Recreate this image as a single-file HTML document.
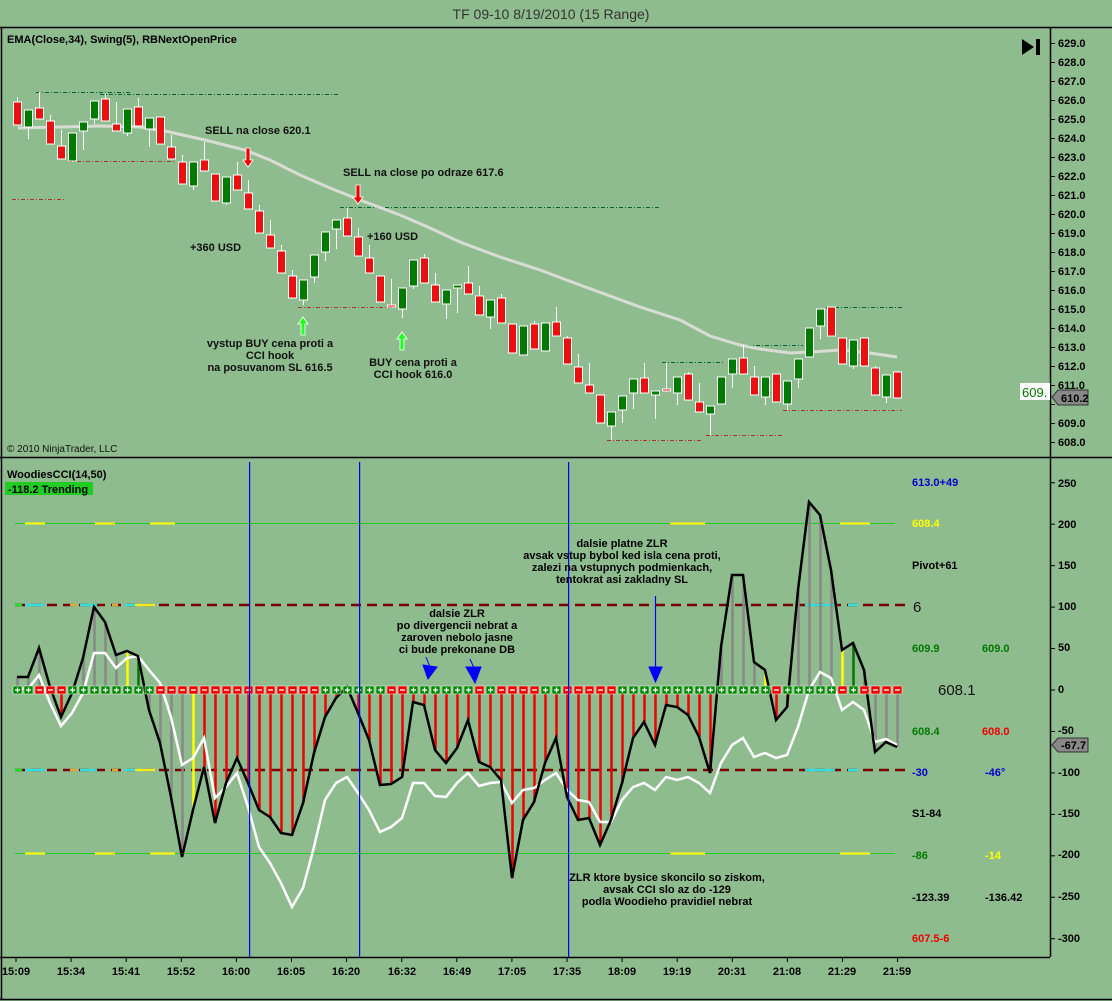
<!DOCTYPE html>
<html><head><meta charset="utf-8"><style>
html,body{margin:0;padding:0;background:#8fbc8f;}
svg{display:block;font-family:"Liberation Sans",sans-serif;}
.b{font-weight:bold;font-size:11px;}
</style></head><body>
<svg id="s" width="1112" height="1001" viewBox="0 0 1112 1001" xmlns="http://www.w3.org/2000/svg">
<rect width="1112" height="1001" fill="#8fbc8f"/>
<text x="551" y="19" text-anchor="middle" font-size="14" fill="#333">TF 09-10  8/19/2010 (15 Range)</text>
<g stroke="#000" stroke-width="1.5">
<line x1="0" y1="27.5" x2="1112" y2="27.5"/>
<line x1="0" y1="457.5" x2="1112" y2="457.5"/>
<line x1="1050.5" y1="27" x2="1050.5" y2="957"/>
<line x1="0" y1="957.5" x2="1050" y2="957.5"/>
<line x1="0" y1="999.5" x2="1112" y2="999.5"/>
<line x1="1.5" y1="27" x2="1.5" y2="1000"/>
</g>
<g id="bg"></g>
<g id="ema"></g>
<g id="cand"></g>
<g id="cci"></g>
<g id="vl"></g>
<text class="b" x="7" y="43">EMA(Close,34), Swing(5), RBNextOpenPrice</text>
<polygon points="1022,39 1034,47 1022,55" fill="#000"/><rect x="1036" y="39" width="4" height="16" fill="#000"/>
<text x="7" y="452" font-size="10" fill="#111">© 2010 NinjaTrader, LLC</text>
<g class="b" fill="#111">
<text x="205" y="134">SELL na close 620.1</text>
<text x="343" y="176">SELL na close po odraze 617.6</text>
<text x="190" y="251">+360 USD</text>
<text x="367" y="240">+160 USD</text>
<g text-anchor="middle"><text x="270" y="347">vystup BUY cena proti a</text><text x="270" y="359">CCI hook</text><text x="270" y="371">na posuvanom SL 616.5</text>
<text x="413" y="366">BUY cena proti a</text><text x="413" y="378">CCI hook 616.0</text></g>
</g>
<g fill="#e00" stroke="#fff" stroke-width="0.8"><polygon points="246,148 250,148 250,160 253,160 248,167 243,160 246,160"/><polygon points="356,185 360,185 360,197 363,197 358,204 353,197 356,197"/></g>
<g fill="#2f2" stroke="#fff" stroke-width="0.8"><polygon points="301,335 305,335 305,324 308,324 303,317 298,324 301,324"/><polygon points="400,350 404,350 404,339 407,339 402,332 397,339 400,339"/></g>
<g class="b" fill="#000">
<text x="1058" y="47">629.0</text><text x="1058" y="66">628.0</text><text x="1058" y="85">627.0</text><text x="1058" y="104">626.0</text><text x="1058" y="123">625.0</text><text x="1058" y="142">624.0</text><text x="1058" y="161">623.0</text><text x="1058" y="180">622.0</text><text x="1058" y="199">621.0</text><text x="1058" y="218">620.0</text><text x="1058" y="237">619.0</text><text x="1058" y="256">618.0</text><text x="1058" y="275">617.0</text><text x="1058" y="294">616.0</text><text x="1058" y="313">615.0</text><text x="1058" y="332">614.0</text><text x="1058" y="351">613.0</text><text x="1058" y="370">612.0</text><text x="1058" y="389">611.0</text><text x="1058" y="427">609.0</text><text x="1058" y="446">608.0</text>
<text x="1058" y="487">250</text><text x="1058" y="528">200</text><text x="1058" y="569">150</text><text x="1058" y="610">100</text><text x="1058" y="651">50</text><text x="1058" y="693">0</text><text x="1058" y="734">-50</text><text x="1058" y="776">-100</text><text x="1058" y="817">-150</text><text x="1058" y="858">-200</text><text x="1058" y="900">-250</text><text x="1058" y="942">-300</text>
</g>
<rect x="1020" y="383" width="30" height="17" fill="#fff"/><text x="1022" y="397" font-size="13" fill="#070">609.</text>
<polygon points="1052,397 1058,390 1088,390 1088,405 1058,405" fill="#888" stroke="#333"/><text class="b" x="1061" y="402" fill="#000">610.2</text>
<polygon points="1052,745 1058,738 1088,738 1088,752 1058,752" fill="#888" stroke="#333"/><text class="b" x="1061" y="749" fill="#000" font-size="10">-67.7</text>
<text class="b" x="7" y="478">WoodiesCCI(14,50)</text>
<rect x="5" y="482" width="88" height="13" fill="#2c2"/><text class="b" x="8" y="493" fill="#000">-118.2 Trending</text>
<g class="b">
<text x="912" y="486" fill="#00c">613.0+49</text>
<text x="912" y="527" fill="#ff0">608.4</text>
<text x="912" y="569" fill="#000">Pivot+61</text>
<text x="913" y="612" font-size="15" font-weight="normal" fill="#111">6</text>
<text x="912" y="652" fill="#070">609.9</text><text x="982" y="652" fill="#070">609.0</text>
<text x="938" y="695" font-size="15" font-weight="normal" fill="#111">608.1</text>
<text x="912" y="735" fill="#070">608.4</text><text x="982" y="735" fill="#e00">608.0</text>
<text x="912" y="776" fill="#00c">-30</text><text x="985" y="776" fill="#00c">-46°</text>
<text x="912" y="817" fill="#000">S1-84</text>
<text x="912" y="859" fill="#070">-86</text><text x="985" y="859" fill="#ff0">-14</text>
<text x="912" y="901" fill="#000">-123.39</text><text x="985" y="901" fill="#000">-136.42</text>
<text x="912" y="942" fill="#e00">607.5-6</text>
</g>
<g class="b" fill="#000" text-anchor="middle" font-size="10.5">
<text x="457" y="617">dalsie ZLR</text><text x="457" y="629">po divergencii nebrat a</text><text x="457" y="641">zaroven nebolo jasne</text><text x="457" y="653">ci bude prekonane DB</text>
<text x="622" y="547">dalsie platne ZLR</text><text x="622" y="559">avsak vstup bybol ked isla cena proti,</text><text x="622" y="571">zalezi na vstupnych podmienkach,</text><text x="622" y="583">tentokrat asi zakladny SL</text>
<text x="667" y="881">ZLR ktore bysice skoncilo so ziskom,</text><text x="667" y="893">avsak CCI slo az do -129</text><text x="667" y="905">podla Woodieho pravidiel nebrat</text>
</g>
<g fill="#00f" stroke="#00f">
<line x1="426" y1="657" x2="430" y2="667" stroke-width="1"/><polygon points="423,665 437,667 428,679"/>
<line x1="470" y1="659" x2="474" y2="668" stroke-width="1"/><polygon points="466,667 481,667 475,683"/>
<line x1="655.5" y1="596" x2="655.5" y2="670" stroke-width="1.2"/><polygon points="649,667 662,667 655.5,682"/>
</g>
<g class="b" fill="#000" font-size="11" text-anchor="middle">
<text x="16" y="975">15:09</text><text x="71" y="975">15:34</text><text x="126" y="975">15:41</text><text x="181" y="975">15:52</text><text x="236" y="975">16:00</text><text x="291" y="975">16:05</text><text x="346" y="975">16:20</text><text x="402" y="975">16:32</text><text x="457" y="975">16:49</text><text x="512" y="975">17:05</text><text x="567" y="975">17:35</text><text x="622" y="975">18:09</text><text x="677" y="975">19:19</text><text x="732" y="975">20:31</text><text x="787" y="975">21:08</text><text x="842" y="975">21:29</text><text x="897" y="975">21:59</text>
</g>
</svg>
<script>
var NS="http://www.w3.org/2000/svg";
function el(p,t,a){var e=document.createElementNS(NS,t);for(var k in a)e.setAttribute(k,a[k]);document.getElementById(p).appendChild(e);return e;}
var X=function(i){return 17+11*i;};
for(var y=43;y<=442;y+=19)el("bg","line",{x1:1050,x2:1055,y1:y+.5,y2:y+.5,stroke:"#000"});
for(var v=250;v>=-300;v-=50){var yy=690-v*0.829;el("bg","line",{x1:1050,x2:1055,y1:yy,y2:yy,stroke:"#000"});}
for(var i=0;i<17;i++)el("bg","line",{x1:16+55.1*i,x2:16+55.1*i,y1:957,y2:962,stroke:"#000"});
[[36,130,92,"#063"],[100,340,94,"#063"],[68,175,161,"#a33"],[12,65,199,"#a33"],[340,660,207,"#063"],[298,395,307,"#a33"],[607,703,440,"#a33"],[706,782,435,"#a33"],[662,725,362,"#063"],[738,803,345,"#063"],[783,902,410,"#a33"],[826,902,307,"#063"]].forEach(function(s){el("bg","line",{x1:s[0],x2:s[1],y1:s[2]+.5,y2:s[2]+.5,stroke:s[3],"stroke-dasharray":"4,2,1,2"});});
el("ema","polyline",{points:"18,128 60,127 100,126 140,127 165,131 205,140 245,150 270,160 300,175 330,188 360,200 400,215 430,228 460,242 500,257 540,270 580,285 610,296 640,307 680,320 710,336 740,345 760,349 790,353 810,352 840,350 870,353 897,357",fill:"none",stroke:"#d8ddd4","stroke-width":3});
var c=[[102,125,'r',97,125],[110,127,'g',110,139],[108,119,'r',92,119],[121,144,'r',115,144],[146,159,'r',130,159],[133,161,'g',133,161],[122,131,'g',122,150],[101,119,'g',101,124],[99,121,'r',93,121],[124,131,'r',102,131],[109,133,'g',109,136],[107,126,'r',98,126],[118,129,'g',118,147],[117,144,'r',117,144],[147,159,'r',135,159],[162,184,'r',155,184],[162,186,'g',162,190],[160,171,'r',142,171],[174,201,'r',174,201],[177,203,'g',177,205],[175,190,'r',162,190],[193,209,'r',180,209],[211,233,'r',205,233],[235,248,'r',220,248],[251,273,'r',245,273],[276,298,'r',270,298],[280,300,'g',280,305],[255,277,'g',255,283],[232,252,'g',232,261],[220,229,'g',220,249],[218,236,'r',208,236],[237,256,'r',228,256],[258,273,'r',245,273],[276,302,'r',276,302],[305,307,'r',279,307],[288,309,'g',288,318],[260,286,'g',260,289],[258,283,'r',254,283],[285,302,'r',273,302],[290,304,'g',290,319],[285,288,'g',285,313],[283,294,'r',266,294],[296,315,'r',286,315],[300,317,'g',300,329],[298,323,'r',294,323],[324,353,'r',324,353],[326,355,'g',326,355],[324,349,'r',321,349],[323,351,'g',323,351],[322,336,'r',307,336],[338,364,'r',336,364],[367,383,'r',354,383],[385,393,'r',363,393],[395,423,'r',395,423],[412,426,'g',412,440],[396,410,'g',396,423],[379,393,'g',379,409],[378,393,'r',363,393],[391,395,'g',391,419],[389,391,'r',363,391],[377,393,'g',377,405],[374,400,'r',372,400],[402,412,'r',383,412],[406,414,'g',406,435],[377,404,'g',377,404],[359,374,'g',359,388],[358,374,'r',345,374],[377,395,'r',366,395],[377,397,'g',377,405],[374,402,'r',374,402],[381,404,'g',381,410],[359,379,'g',359,388],[328,357,'g',328,357],[309,326,'g',309,339],[307,336,'r',307,336],[338,364,'r',338,364],[340,366,'g',340,369],[338,366,'r',338,366],[368,395,'r',366,395],[375,397,'g',375,403],[372,398,'r',372,398]];
c.forEach(function(d,i){var x=X(i);el("cand","line",{x1:x+.5,x2:x+.5,y1:d[3],y2:d[4],stroke:"#fff"});el("cand","rect",{x:x-3.5,y:d[0],width:8,height:Math.max(2,d[1]-d[0]),fill:d[2]=='r'?"#e81010":"#007a00",stroke:"#fff","stroke-width":1});});
el("cci","line",{x1:15,x2:895,y1:523.5,y2:523.5,stroke:"#2c2"});
el("cci","line",{x1:15,x2:895,y1:853.5,y2:853.5,stroke:"#2c2"});
el("cci","line",{x1:15,x2:905,y1:605,y2:605,stroke:"#700","stroke-width":2.5,"stroke-dasharray":"10,6"});
el("cci","line",{x1:15,x2:905,y1:770,y2:770,stroke:"#700","stroke-width":2.5,"stroke-dasharray":"10,6"});
[[25,45,"#ff0"],[95,115,"#ff0"],[150,175,"#ff0"],[670,705,"#ff0"],[840,870,"#ff0"]].forEach(function(s){el("cci","line",{x1:s[0],x2:s[1],y1:523.5,y2:523.5,stroke:s[2],"stroke-width":2});el("cci","line",{x1:s[0],x2:s[1],y1:853.5,y2:853.5,stroke:s[2],"stroke-width":2});});
[[15,22,"#2d2"],[25,45,"#3dd"],[70,77,"#da3"],[80,97,"#3dd"],[112,118,"#da3"],[125,135,"#3dd"],[135,155,"#ee2"],[805,835,"#3dd"],[848,858,"#3dd"]].forEach(function(s){el("cci","line",{x1:s[0],x2:s[1],y1:605,y2:605,stroke:s[2],"stroke-width":2.5});el("cci","line",{x1:s[0],x2:s[1],y1:770,y2:770,stroke:s[2],"stroke-width":2.5});});
var k=[677,677,648,687,717,693,658,607,622,655,651,656,710,743,797,857,810,767,823,783,758,783,810,817,833,835,803,753,717,698,687,713,740,785,784,777,702,705,750,763,748,720,762,767,780,878,820,802,763,738,797,820,818,845,820,783,738,722,745,705,707,715,737,773,647,575,575,662,670,720,707,590,502,515,570,650,643,670,752,742,747];
var w=[688,689,675,703,726,713,693,653,653,668,658,656,670,683,717,765,758,738,798,787,773,807,847,863,883,907,888,847,800,783,777,793,810,832,827,818,783,783,796,797,783,773,786,783,782,803,790,788,780,773,790,800,802,822,822,800,787,783,790,777,780,777,783,793,763,745,738,757,753,758,755,727,690,672,678,710,702,710,742,739,745];
var col=function(i){if(i<=3)return"#888";if(i==4)return"#e00";if(i<=9)return"#888";if(i==10)return"#ff0";if(i==11)return"#070";if(i<=15)return"#888";if(i==16)return"#ff0";if(i<=63)return"#e00";if(i<=67)return"#888";if(i==68)return"#ff0";if(i<=70)return"#e00";if(i<=74)return"#888";if(i==75)return"#ff0";if(i==76)return"#070";return"#888";};
k.forEach(function(y,i){el("cci","line",{x1:X(i)+.5,x2:X(i)+.5,y1:690,y2:y,stroke:col(i),"stroke-width":2.5});});
el("cci","polyline",{points:w.map(function(y,i){return X(i)+","+y;}).join(" "),fill:"none",stroke:"#fff","stroke-width":2.5});
el("cci","polyline",{points:k.map(function(y,i){return X(i)+","+y;}).join(" "),fill:"none",stroke:"#000","stroke-width":2.5});
var sg="++---++++++++---------------++++++--++++++-+----++-----++++++++++++++-+++++-+----";
for(var i=0;i<81;i++){var p=sg[i]=="+";el("cci","rect",{x:X(i)-4,y:686,width:9,height:8,fill:p?"#080":"#e00",stroke:"#fff","stroke-width":0.5});el("cci","line",{x1:X(i)-2,x2:X(i)+3,y1:690,y2:690,stroke:"#fff","stroke-width":1.3});if(p)el("cci","line",{x1:X(i)+.5,x2:X(i)+.5,y1:687.5,y2:692.5,stroke:"#fff","stroke-width":1.3});}
[249,359,568].forEach(function(x){el("vl","rect",{x:x,y:462,width:1.2,height:495,fill:"#0000ff"});});
</script>
</body></html>
